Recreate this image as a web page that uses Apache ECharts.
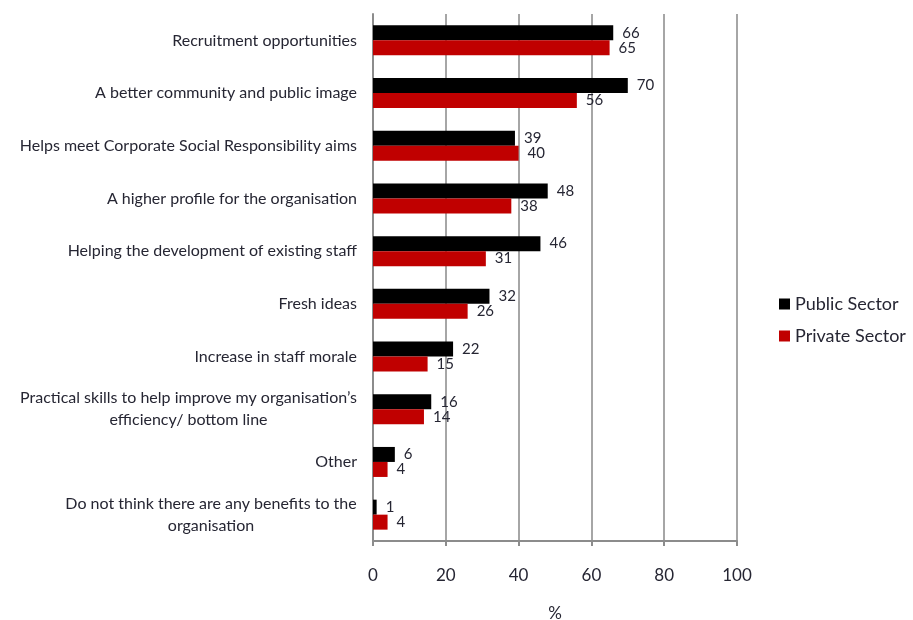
<!DOCTYPE html>
<html>
<head>
<meta charset="utf-8">
<script src="https://cdn.jsdelivr.net/npm/echarts@6/dist/echarts.min.js"></script>
<style>
  html, body { margin: 0; padding: 0; background: #fff; }
  #chart { width: 913px; height: 620px; }
</style>
</head>
<body>
<div id="chart"></div>
<script>
// Benefits to the organisation, by sector (%)
const categories = [
  "Recruitment opportunities",
  "A better community and public image",
  "Helps meet Corporate Social Responsibility aims",
  "A higher profile for the organisation",
  "Helping the development of existing staff",
  "Fresh ideas",
  "Increase in staff morale",
  "Practical skills to help improve my organisation\u2019s\nefficiency/ bottom line",
  "Other",
  "Do not think there are any benefits to the\norganisation"
];
const publicSector = [66, 70, 39, 48, 46, 32, 22, 16, 6, 1];
const privateSector = [65, 56, 40, 38, 31, 26, 15, 14, 4, 4];
const xTicks = { min: 0, max: 100, interval: 20 };

const FONT = 'Lato, "Open Sans", sans-serif';
const TEXT = '#262633';
const CAT_SIZE = 16;

// Widest line of each multi-line category name, so its lines can be centred
// on each other while the block stays right-aligned against the axis.
const measureCtx = document.createElement('canvas').getContext('2d');
measureCtx.font = CAT_SIZE + 'px ' + FONT;
function widestLine(text) {
  return Math.ceil(Math.max.apply(null, text.split('\n').map(function (l) {
    return measureCtx.measureText(l).width;
  })));
}
const rich = {};
categories.forEach(function (c, i) {
  if (c.indexOf('\n') >= 0) {
    rich['c' + i] = {
      width: widestLine(c), align: 'center', color: TEXT,
      fontFamily: FONT, fontSize: CAT_SIZE, lineHeight: 22
    };
  }
});

const chart = echarts.init(document.getElementById('chart'));

function barLabel() {
  return {
    show: true,
    position: 'right',
    distance: 9,
    color: TEXT,
    fontFamily: FONT,
    fontSize: 15
  };
}

chart.setOption({
  animation: false,
  textStyle: { fontFamily: FONT },
  grid: { left: 373, right: 176, top: 14, bottom: 79, outerBoundsMode: 'none' },
  legend: {
    orient: 'vertical',
    left: 774,
    top: 290,
    itemWidth: 11,
    itemHeight: 11,
    itemGap: 14,
    icon: 'rect',
    textStyle: { color: TEXT, fontFamily: FONT, fontSize: 18 },
    data: ['Public Sector', 'Private Sector']
  },
  xAxis: {
    type: 'value',
    min: xTicks.min,
    max: xTicks.max,
    interval: xTicks.interval,
    name: '%',
    nameLocation: 'middle',
    nameGap: 64,
    nameTextStyle: { color: TEXT, fontFamily: FONT, fontSize: 17 },
    axisLine: { show: true, lineStyle: { color: '#8c8c8c', width: 2 } },
    axisTick: { show: true, length: 5, lineStyle: { color: '#8c8c8c', width: 2 } },
    axisLabel: { color: TEXT, fontFamily: FONT, fontSize: 17, margin: 26 },
    splitLine: { show: true, lineStyle: { color: '#a6a6a6', width: 2 } }
  },
  yAxis: {
    type: 'category',
    inverse: true,
    data: categories,
    axisLine: { show: true, lineStyle: { color: '#8c8c8c', width: 2 } },
    axisTick: { show: false },
    axisLabel: {
      color: TEXT,
      fontFamily: FONT,
      fontSize: CAT_SIZE,
      margin: 16,
      lineHeight: 22,
      formatter: function (value, index) {
        if (rich['c' + index]) {
          return value.split('\n').map(function (l) { return '{c' + index + '|' + l + '}'; }).join('\n');
        }
        return value;
      },
      rich: rich
    }
  },
  series: [
    {
      name: 'Public Sector',
      type: 'bar',
      data: publicSector,
      barWidth: 15,
      barGap: '0%',
      itemStyle: { color: '#000000' },
      label: barLabel()
    },
    {
      name: 'Private Sector',
      type: 'bar',
      data: privateSector,
      barWidth: 15,
      barGap: '0%',
      itemStyle: { color: '#c00000' },
      label: barLabel()
    }
  ]
});
</script>
</body>
</html>
